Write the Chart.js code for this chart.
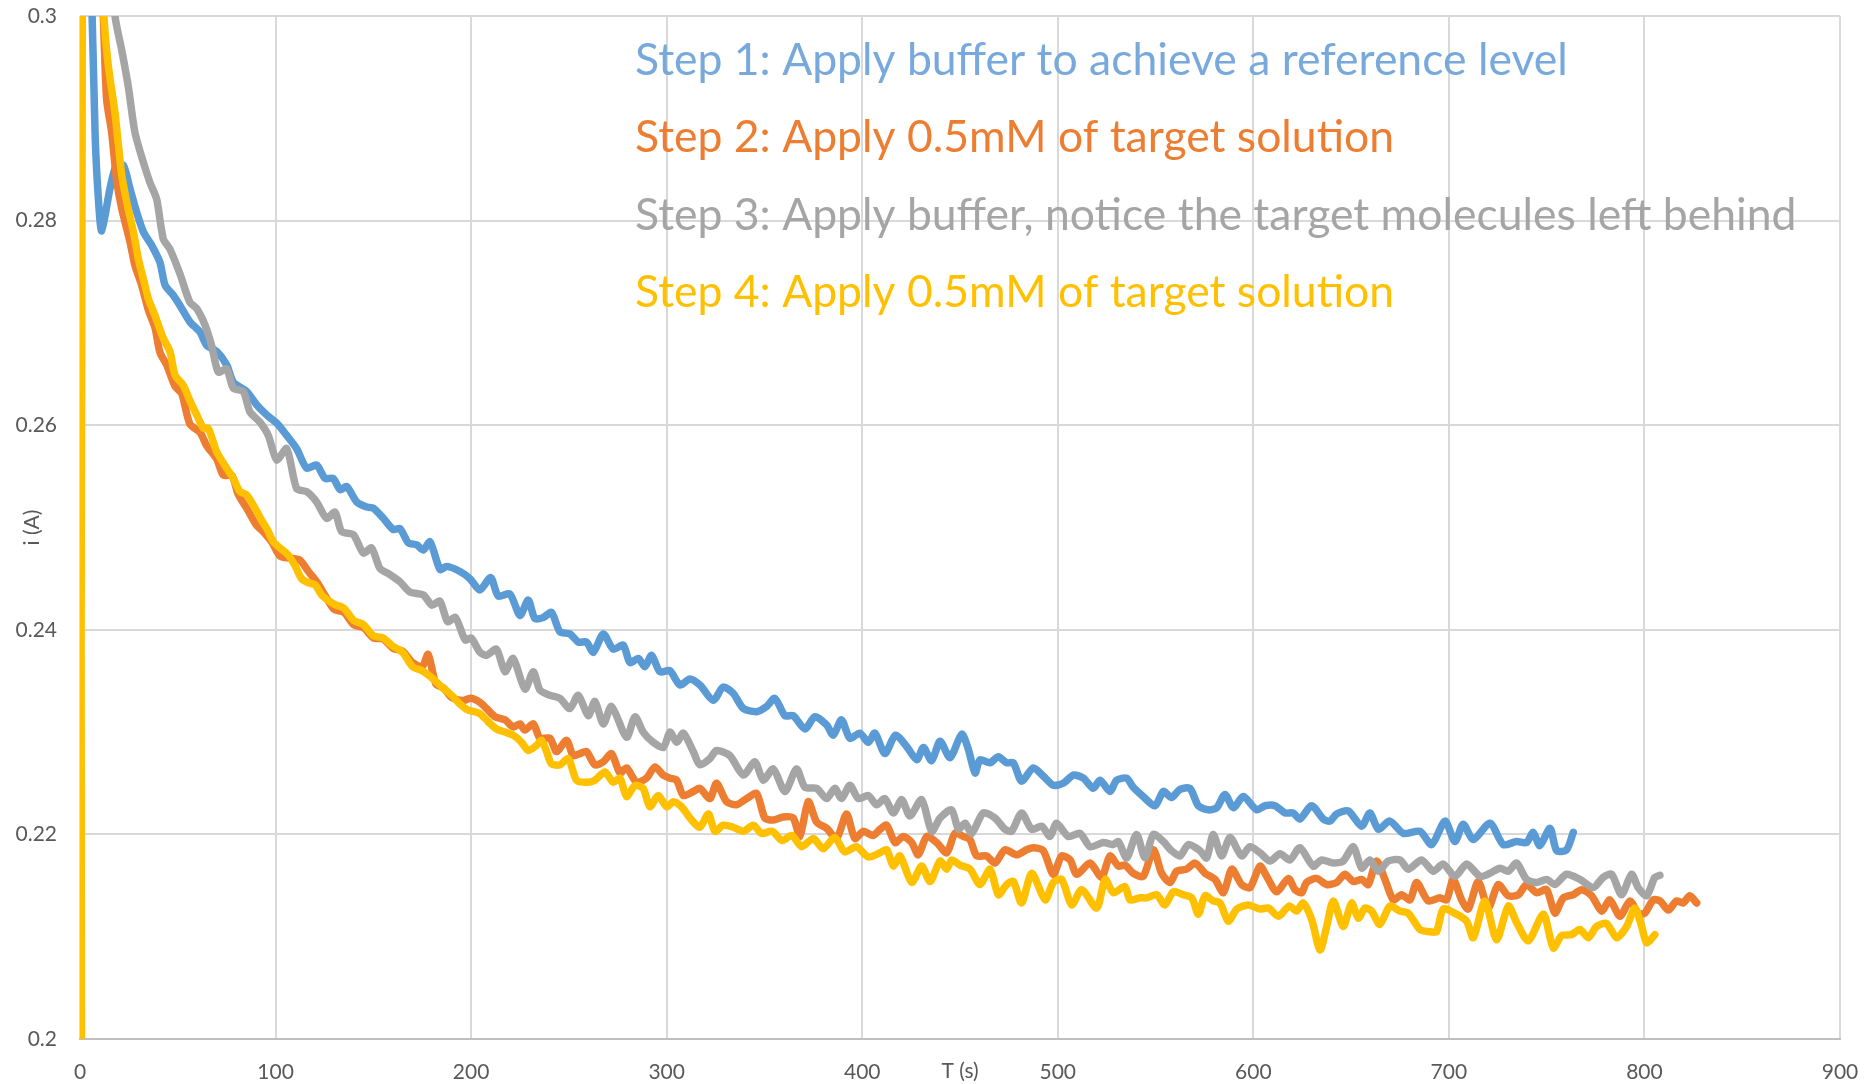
<!DOCTYPE html>
<html lang="en">

<head>
    <meta charset="UTF-8">
    <title>Current vs time</title>
    <style>
        html,
        body {
            margin: 0;
            padding: 0;
            background: #fff;
        }

        .chart-container {
            position: relative;
            width: 1865px;
            height: 1084px;
        }
    </style>
</head>

<body>
    <div class="chart-container">
        <canvas id="currentChart"></canvas>
    </div>
</body>

<script src="https://cdn.jsdelivr.net/npm/chart.js@4.4.6/dist/chart.umd.min.js"></script>
<script>
    const stepLabels = [
        'Step 1: Apply buffer to achieve a reference level',
        'Step 2: Apply 0.5mM of target solution',
        'Step 3: Apply buffer, notice the target molecules left behind',
        'Step 4: Apply 0.5mM of target solution',
    ];
    const lineColors = ['#5B9BD5', '#ED7D31', '#A5A5A5', '#FFC000'];
    const labelColors = ['#78A9DC', '#ED7D31', '#A5A5A5', '#FFC000'];

    const xTicks = [0, 100, 200, 300, 400, 500, 600, 700, 800, 900];
    const yTicks = [0.2, 0.22, 0.24, 0.26, 0.28, 0.3];

    // [T (s), i (A)]
    const step1Points = [
        [5, 0.31], [7.7, 0.2886], [9.4, 0.2821], [11.1, 0.279], [15.3, 0.2831], [18.7, 0.2855], [22.2, 0.2854],
        [25.6, 0.2831], [29, 0.2808], [32.4, 0.2789], [36.6, 0.2776], [40.9, 0.2759], [43.5, 0.2737], [47.7, 0.2727],
        [51.1, 0.2717], [56.2, 0.2701], [61.4, 0.2691], [64.8, 0.2678], [69.9, 0.2672], [75, 0.2659], [78.4, 0.2642],
        [85.2, 0.2633], [90.3, 0.262], [95.5, 0.261], [100.6, 0.2602], [105.7, 0.259], [110.8, 0.2577], [115.9, 0.2558],
        [121, 0.2561], [125.3, 0.2548], [129.5, 0.2548], [133, 0.2537], [136.4, 0.254], [141.5, 0.2525], [146.6, 0.252],
        [150, 0.2519], [155.1, 0.2509], [160.2, 0.2498], [163.6, 0.2499], [167.9, 0.2485], [172.2, 0.2483], [175.6, 0.2478],
        [179, 0.2486], [184.1, 0.2459], [187.5, 0.2462], [194.3, 0.2457], [199.4, 0.245], [204.5, 0.2439], [210, 0.2451],
        [213.9, 0.2433], [219.8, 0.2435], [225, 0.2414], [229.2, 0.2429], [232.6, 0.2411], [236.9, 0.2412], [241.1, 0.2417],
        [245.4, 0.2398], [250.5, 0.2396], [254.8, 0.2388], [259, 0.2388], [262.5, 0.2378], [267.6, 0.2396], [272.7, 0.2381],
        [277.8, 0.2385], [281.2, 0.2368], [285.5, 0.2372], [288.9, 0.2364], [292.3, 0.2375], [296.5, 0.2359], [301.6, 0.236],
        [306.8, 0.2346], [311.9, 0.2352], [317, 0.2346], [323.8, 0.2331], [328.9, 0.2344], [334, 0.2338], [339.2, 0.2323],
        [346, 0.232], [351.1, 0.2325], [355.3, 0.2333], [360.5, 0.2316], [364.7, 0.2316], [370.7, 0.2303], [375.8, 0.2315],
        [381.8, 0.2307], [385.2, 0.2297], [389.4, 0.2312], [393.7, 0.2294], [398.8, 0.2299], [403.1, 0.229], [406.5, 0.2299],
        [411.6, 0.2279], [417, 0.2297], [422.7, 0.2286], [427.9, 0.2273], [431.3, 0.2285], [435.5, 0.2272], [439.8, 0.2291],
        [444.9, 0.2275], [450.9, 0.2298], [454.3, 0.2283], [457.7, 0.226], [460.2, 0.2273], [465.3, 0.227], [469.6, 0.2276],
        [473.9, 0.227], [477.3, 0.227], [481.5, 0.2252], [487.5, 0.2265], [492.6, 0.2257], [497.7, 0.2248], [502.8, 0.225],
        [508, 0.2258], [513.1, 0.2255], [518.2, 0.2245], [521.6, 0.2253], [526.7, 0.2242], [530.1, 0.2253], [535.2, 0.2255],
        [538.6, 0.2246], [543.7, 0.2237], [549.7, 0.2228], [554, 0.2242], [558.2, 0.2236], [562.5, 0.2244], [567.6, 0.2245],
        [571.9, 0.2228], [577, 0.2224], [581.3, 0.2226], [585.5, 0.2239], [589.8, 0.2226], [594.9, 0.2237], [601.7, 0.2224],
        [606, 0.2228], [611.1, 0.2228], [616.2, 0.2221], [620.4, 0.2221], [623.8, 0.2215], [629.8, 0.2228], [635.8, 0.2215],
        [639.2, 0.2213], [642.6, 0.222], [648.5, 0.2223], [655.4, 0.2208], [659.6, 0.2221], [663.9, 0.2205], [669.8, 0.2213],
        [676.7, 0.2201], [685.2, 0.2203], [691.2, 0.219], [698, 0.2213], [703.1, 0.2193], [707.3, 0.221], [712.5, 0.2195],
        [721, 0.2211], [727.8, 0.219], [734.6, 0.2193], [739.7, 0.2192], [743.1, 0.2202], [746.5, 0.2189], [751.7, 0.2206],
        [755.1, 0.2184], [760.2, 0.2185], [763.6, 0.2202],
    ];

    const step2Points = [
        [10.5, 0.305], [11.9, 0.3], [13.6, 0.2919], [16.2, 0.2886], [18.7, 0.284], [21.3, 0.2812], [25.6, 0.2779],
        [28.1, 0.2756], [31.5, 0.2737], [34.9, 0.2713], [38.4, 0.2695], [40.9, 0.2671], [44.3, 0.2659], [48.6, 0.2638],
        [52, 0.2631], [56.2, 0.2601], [61.4, 0.2593], [64.8, 0.258], [69.9, 0.2567], [73.3, 0.2551], [77.6, 0.2551],
        [81, 0.2532], [85.2, 0.2519], [90.3, 0.2502], [93.7, 0.2496], [98, 0.2486], [102.3, 0.2472], [107.4, 0.247],
        [112.5, 0.2468], [116.8, 0.2457], [121, 0.2447], [126.1, 0.2431], [130, 0.242], [135, 0.2417], [140, 0.2405],
        [145, 0.2402], [150, 0.2392], [155, 0.2391], [160, 0.2382], [165, 0.2379], [170, 0.2368], [175, 0.2364],
        [178, 0.2376], [182, 0.2347], [186, 0.2343], [190, 0.2334], [196, 0.2331], [200, 0.2333],
        [204.5, 0.2329], [207.9, 0.2323], [212.2, 0.2315], [217.3, 0.2312], [221.5, 0.2305], [225, 0.2308], [227.5, 0.2302],
        [231.8, 0.2308], [235.2, 0.2294], [240.3, 0.2294], [243.7, 0.2281], [248.8, 0.2292], [252.2, 0.2277], [255.6, 0.2279],
        [259, 0.2281], [263.3, 0.2268], [267.6, 0.2271], [271.8, 0.2279], [276.1, 0.226], [279.5, 0.2265], [284.6, 0.2251],
        [289.7, 0.2255], [294, 0.2266], [298.2, 0.2258], [301.7, 0.2255], [305.1, 0.2253], [308.5, 0.2238], [313.6, 0.2242],
        [317, 0.2245], [322.1, 0.2235], [325.5, 0.225], [330.6, 0.2232], [335.7, 0.2229], [340.9, 0.2235], [346, 0.224],
        [350.2, 0.2216], [354.5, 0.2214], [359.6, 0.2217], [364.7, 0.2216], [368.1, 0.2198], [372.4, 0.2232], [376.7, 0.2212],
        [381.8, 0.2206], [386.9, 0.2196], [392, 0.222], [396.2, 0.2196], [400.5, 0.2203], [405.6, 0.2199], [409.1, 0.2205],
        [412.5, 0.2209], [416.8, 0.2192], [421, 0.2198], [425.3, 0.2192], [428.7, 0.218], [433, 0.2198], [438.1, 0.2192],
        [443.2, 0.2182], [447.4, 0.2201], [451.7, 0.2198], [455.1, 0.2195], [458.5, 0.2179], [463.6, 0.2179], [467.9, 0.2172],
        [473, 0.2185], [479, 0.218], [484.1, 0.2185], [487.5, 0.2187], [492.6, 0.2184], [497.7, 0.2161], [502, 0.2179],
        [506.3, 0.2175], [509.7, 0.2161], [516.5, 0.2172], [522.4, 0.2158], [526.7, 0.2179], [531, 0.2169], [534.4, 0.217],
        [538.6, 0.2162], [543.7, 0.2159], [548.9, 0.2185], [553.1, 0.2162], [557.4, 0.2153], [560.8, 0.2164], [565.9, 0.2166],
        [570.2, 0.2172], [575.3, 0.2162], [580.4, 0.2156], [584.7, 0.2143], [589, 0.2166], [594, 0.2151], [598.3, 0.2148],
        [603.4, 0.2169], [606.8, 0.2159], [611.9, 0.2144], [617.9, 0.2157], [621.3, 0.2146], [624.7, 0.2143], [627.2, 0.2153],
        [632.3, 0.2157], [637.5, 0.2151], [642.6, 0.2153], [646.8, 0.2161], [651.1, 0.2154], [655.4, 0.2156], [658.8, 0.2151],
        [663, 0.2174], [667.3, 0.2156], [671.6, 0.2136], [675.8, 0.2141], [680.1, 0.2136], [683.5, 0.2153], [689.4, 0.2135],
        [695.4, 0.2138], [698.8, 0.2136], [702.2, 0.2156], [706.5, 0.2136], [709.9, 0.2127], [715, 0.2154], [720.1, 0.2128],
        [725.2, 0.2151], [730.4, 0.214], [735.5, 0.2141], [739.7, 0.2151], [744.8, 0.2143], [750, 0.2146], [754.2, 0.2123],
        [758.5, 0.2138], [763.6, 0.2141], [767.9, 0.2146], [773, 0.214], [778.1, 0.2125], [782.3, 0.2136], [787.5, 0.212],
        [792.6, 0.2135], [796.8, 0.2123], [800.2, 0.2123], [804.5, 0.2136], [807.9, 0.2135], [812.2, 0.2126], [816.4, 0.2135],
        [819.8, 0.2133], [823.2, 0.214], [826.7, 0.2133],
    ];

    const step3Points = [
        [17, 0.305], [17.9, 0.3], [21.3, 0.2967], [24.7, 0.2931], [28.1, 0.2886], [32.4, 0.2857], [35.8, 0.2837],
        [39.2, 0.2821], [42.6, 0.2782], [46, 0.2772], [51.1, 0.2748], [56.2, 0.272], [59.7, 0.2714], [63.9, 0.2698],
        [67.3, 0.2678], [70.7, 0.2652], [75, 0.2655], [78.4, 0.2636], [83.5, 0.2633], [86.9, 0.2613], [92, 0.2603],
        [96.3, 0.259], [100.6, 0.2566], [105.7, 0.2577], [110.8, 0.2538], [115.9, 0.2535], [121, 0.2525], [126.1, 0.2509],
        [130.4, 0.2515], [133.8, 0.2496], [139.8, 0.2493], [144.9, 0.2475], [149.1, 0.248], [153.4, 0.246], [158.5, 0.2454],
        [163.6, 0.2447], [168.7, 0.2437], [175.6, 0.2434], [180, 0.2424], [184, 0.2428], [188, 0.2408], [192, 0.2412],
        [197, 0.239], [200, 0.2392], [204.5, 0.2378],
        [207.9, 0.2375], [213, 0.2381], [217.3, 0.2359], [221.5, 0.2372], [227.5, 0.2342], [231.8, 0.2359], [235.2, 0.2341],
        [240.3, 0.2336], [245.4, 0.2333], [250.5, 0.2323], [254.8, 0.2336], [259.9, 0.2316], [263.3, 0.233], [267.6, 0.2308],
        [271.8, 0.2325], [279.5, 0.2295], [283.8, 0.2315], [288, 0.23], [293.1, 0.229], [298.3, 0.2285], [301.7, 0.23],
        [305.1, 0.229], [308.5, 0.2299], [313.6, 0.2281], [317, 0.2268], [322.1, 0.2274], [325.5, 0.2282], [332.3, 0.2277],
        [339.2, 0.2258], [345.1, 0.2271], [349.4, 0.2253], [354.5, 0.2264], [360.5, 0.2242], [366.4, 0.2264], [370.7, 0.2246],
        [376.7, 0.2245], [381.8, 0.2235], [386, 0.2245], [389.4, 0.2235], [393.7, 0.2248], [398, 0.2235], [403.1, 0.2238],
        [407.3, 0.2229], [411.6, 0.2235], [415.9, 0.2221], [420.2, 0.2234], [424.4, 0.2218], [430.4, 0.2234], [435.5, 0.2203],
        [439.8, 0.2216], [445.7, 0.2224], [449.2, 0.2205], [452.6, 0.2211], [456, 0.2201], [461.9, 0.2221], [467.9, 0.2216],
        [473, 0.2205], [476.4, 0.2203], [481.5, 0.2221], [486.7, 0.2205], [491.8, 0.2208], [496, 0.2198], [499.4, 0.2211],
        [505.4, 0.2198], [511.4, 0.2201], [516.5, 0.2188], [523.3, 0.2192], [528.4, 0.219], [531, 0.2193], [535.2, 0.2177],
        [540.3, 0.22], [544.6, 0.2177], [548.9, 0.22], [554, 0.2193], [558.2, 0.2184], [562.5, 0.2179], [566.8, 0.219],
        [572.7, 0.2184], [576.1, 0.2177], [579.5, 0.22], [583.8, 0.2179], [588.1, 0.2197], [594, 0.2179], [598.3, 0.2188],
        [603.4, 0.2182], [608.5, 0.2174], [613.6, 0.2181], [618.7, 0.2175], [623.8, 0.2187], [630.6, 0.2169], [634.9, 0.2175],
        [640.9, 0.2172], [646, 0.2174], [651.1, 0.2188], [655.4, 0.2167], [659.6, 0.2175], [663.9, 0.2164], [669, 0.2174],
        [675, 0.2175], [679.2, 0.2166], [686, 0.2175], [692, 0.2164], [697.1, 0.2171], [703.1, 0.2159], [709.1, 0.2171],
        [715.9, 0.2159], [721, 0.2162], [726.1, 0.2167], [730.4, 0.2164], [734.6, 0.2172], [739.7, 0.2156], [744.8, 0.2153],
        [750, 0.2156], [754.2, 0.2151], [760.2, 0.2161], [767, 0.2156], [773.8, 0.2148], [778.9, 0.2158], [783.2, 0.2161],
        [788.3, 0.2141], [793.4, 0.2161], [796.8, 0.2148], [801.1, 0.214], [805.3, 0.2158], [807.9, 0.216],
    ];

    const step4Points = [
        [1, 0.15], [1.6, 0.34], [12.2, 0.3], [14.5, 0.2951], [17.9, 0.2905], [21.3, 0.2845], [23.9, 0.2818],
        [27.3, 0.2789], [29.8, 0.2763], [32.4, 0.2743], [34.9, 0.2724], [38.4, 0.2707], [42.6, 0.2685], [46, 0.2672],
        [48.6, 0.2649], [52.8, 0.2639], [56.2, 0.2624], [59.7, 0.261], [63.1, 0.2597], [65.6, 0.2597], [69.9, 0.2574],
        [75, 0.2558], [78.4, 0.2548], [81.8, 0.2535], [85.2, 0.2532], [89.5, 0.2519], [92.9, 0.2507], [95.5, 0.2499],
        [98.9, 0.2486], [102.3, 0.248], [106.5, 0.2473], [109.9, 0.2463], [113.3, 0.245], [116.8, 0.2446], [120.2, 0.2444],
        [123.6, 0.2434], [130, 0.2425], [135, 0.2421], [140, 0.2409], [145, 0.2405], [150, 0.2394], [155, 0.2392],
        [160, 0.2384], [165, 0.2378], [170, 0.2364], [175, 0.236], [180, 0.2353], [185, 0.2344], [190, 0.2336],
        [194, 0.2328], [198, 0.2322], [204.5, 0.2318], [208.8, 0.231], [213, 0.2303], [217.3, 0.23], [221.5, 0.2297],
        [225.8, 0.229], [229.2, 0.2282], [233.5, 0.2287], [236, 0.2292], [238.6, 0.2281], [241.1, 0.2269], [245.4, 0.2268],
        [249.7, 0.2274], [253.9, 0.2253], [259, 0.2251], [263.3, 0.2253], [268.4, 0.2261], [272.7, 0.2251], [276.1, 0.2255],
        [279.5, 0.2237], [283.8, 0.2248], [288, 0.2245], [291.4, 0.2227], [295.7, 0.2238], [300, 0.2227], [303.4, 0.2232],
        [307.6, 0.2227], [311.9, 0.2216], [317, 0.2207], [321.3, 0.222], [324.7, 0.2203], [328.9, 0.2209], [334, 0.2207],
        [339.2, 0.2203], [344.3, 0.2209], [348.5, 0.2201], [354, 0.2203], [359, 0.2194], [364, 0.2199], [369, 0.2188],
        [375, 0.2196], [380, 0.2186], [386, 0.2197], [391, 0.2183], [397, 0.2188], [403, 0.2178],
        [409.1, 0.2182], [412.5, 0.2185], [415.9, 0.2169], [419.3, 0.2179], [425.3, 0.2153], [430.4, 0.2169], [434.7, 0.2154],
        [439.8, 0.2174], [443.2, 0.2166], [445.7, 0.2175], [450, 0.217], [455.1, 0.2166], [460.2, 0.2151], [465.4, 0.2166],
        [469.6, 0.2141], [473.9, 0.2151], [477.3, 0.2154], [481.5, 0.2133], [486.7, 0.2162], [493.5, 0.2136], [497.7, 0.2153],
        [502, 0.2156], [507.1, 0.2131], [512.2, 0.2146], [519.9, 0.2128], [524.2, 0.2156], [528.4, 0.2143], [534.4, 0.2149],
        [536.9, 0.2136], [542, 0.2138], [545.5, 0.2138], [550.6, 0.2141], [554.8, 0.2131], [559.1, 0.2144], [564.2, 0.2141],
        [568.5, 0.2138], [571.9, 0.2122], [575.3, 0.214], [579.5, 0.2135], [583, 0.2133], [587.2, 0.2115], [591.5, 0.2127],
        [597.4, 0.2131], [603.4, 0.2127], [607.7, 0.2128], [612.8, 0.212], [618.3, 0.213], [622.1, 0.2125], [625.5, 0.2133],
        [629.8, 0.2117], [634.1, 0.2087], [637.5, 0.211], [640.9, 0.2135], [646, 0.211], [650.2, 0.2133], [653.7, 0.2118],
        [657.1, 0.2128], [660.5, 0.2125], [664.7, 0.2112], [669.8, 0.213], [675, 0.2125], [679.2, 0.2123], [685.2, 0.2107],
        [689.5, 0.2105], [693.7, 0.2105], [697.1, 0.2127], [703.9, 0.2122], [709.1, 0.2115], [712.5, 0.2099], [718.4, 0.2135],
        [724.4, 0.2097], [730.4, 0.213], [734.6, 0.2114], [740.6, 0.2096], [748.3, 0.2122], [753.4, 0.2089], [757.6, 0.2101],
        [762.7, 0.2102], [767, 0.2107], [771.3, 0.2099], [775.5, 0.211], [780.6, 0.2113], [785.8, 0.2099], [790.9, 0.211],
        [795.1, 0.2128], [798.6, 0.211], [801.1, 0.2094], [805.3, 0.2102],
    ];

    const seriesPoints = [step1Points, step2Points, step3Points, step4Points];

    const tickFont = { family: 'Lato, "Open Sans", sans-serif', size: 21 };
    const tickColor = '#595959';
    const gridColor = '#D9D9D9';

    // keep the plot box where the original has it: no automatic label padding
    function fixScaleSize(scale, size) {
        if (scale.isHorizontal()) scale.height = size; else scale.width = size;
        scale.paddingTop = 0;
        scale.paddingBottom = 0;
        scale.paddingLeft = 0;
        scale.paddingRight = 0;
    }

    // the four step captions sit inside the plot, left aligned
    const stepCaptions = {
        id: 'stepCaptions',
        afterDraw(chart) {
            const { ctx, chartArea } = chart;
            ctx.save();
            ctx.font = '44.5px Lato, "Open Sans", sans-serif';
            ctx.textAlign = 'left';
            ctx.textBaseline = 'alphabetic';
            stepLabels.forEach((text, i) => {
                ctx.fillStyle = labelColors[i];
                ctx.fillText(text, chartArea.left + 555, chartArea.top + 59 + i * 77.3);
            });
            ctx.restore();
        }
    };

    const chart = new Chart(document.getElementById('currentChart'), {
        type: 'line',
        data: {
            datasets: seriesPoints.map((pts, i) => ({
                label: stepLabels[i],
                data: pts.map(([t, cur]) => ({ x: t, y: cur })),
                borderColor: lineColors[i],
                backgroundColor: lineColors[i],
                borderWidth: 7.5,
                pointRadius: 0,
                tension: 0.25,
                borderCapStyle: 'round',
                borderJoinStyle: 'round',
                clip: 0,
                // Excel draws the later series on top
                order: 4 - i,
            })),
        },
        options: {
            responsive: true,
            maintainAspectRatio: false,
            animation: false,
            layout: { padding: { top: 16, right: 25, left: 0, bottom: 0 } },
            scales: {
                x: {
                    type: 'linear',
                    min: 0,
                    max: 900,
                    afterBuildTicks: (scale) => { scale.ticks = xTicks.map(v => ({ value: v })); },
                    afterFit: (scale) => fixScaleSize(scale, 45),
                    grid: { color: gridColor, lineWidth: 2, drawTicks: false },
                    border: { color: '#BFBFBF', width: 2 },
                    ticks: { font: tickFont, color: tickColor, padding: 21, maxRotation: 0, autoSkip: false },
                    title: { display: true, text: 'T (s)', font: tickFont, color: tickColor, padding: { top: 0, bottom: 0 } },
                },
                y: {
                    type: 'linear',
                    min: 0.2,
                    max: 0.3,
                    afterBuildTicks: (scale) => { scale.ticks = yTicks.map(v => ({ value: v })); },
                    afterFit: (scale) => fixScaleSize(scale, 80),
                    grid: { color: gridColor, lineWidth: 2, drawTicks: false },
                    border: { display: false },
                    ticks: {
                        font: tickFont,
                        color: tickColor,
                        padding: 23,
                        callback: (value) => String(+value.toFixed(2)),
                    },
                    title: { display: true, text: 'i (A)', font: tickFont, color: tickColor, padding: { top: 20, bottom: 0 } },
                },
            },
            plugins: {
                legend: { display: false },
                tooltip: { enabled: false },
            },
        },
        plugins: [stepCaptions],
    });
</script>

</html>
